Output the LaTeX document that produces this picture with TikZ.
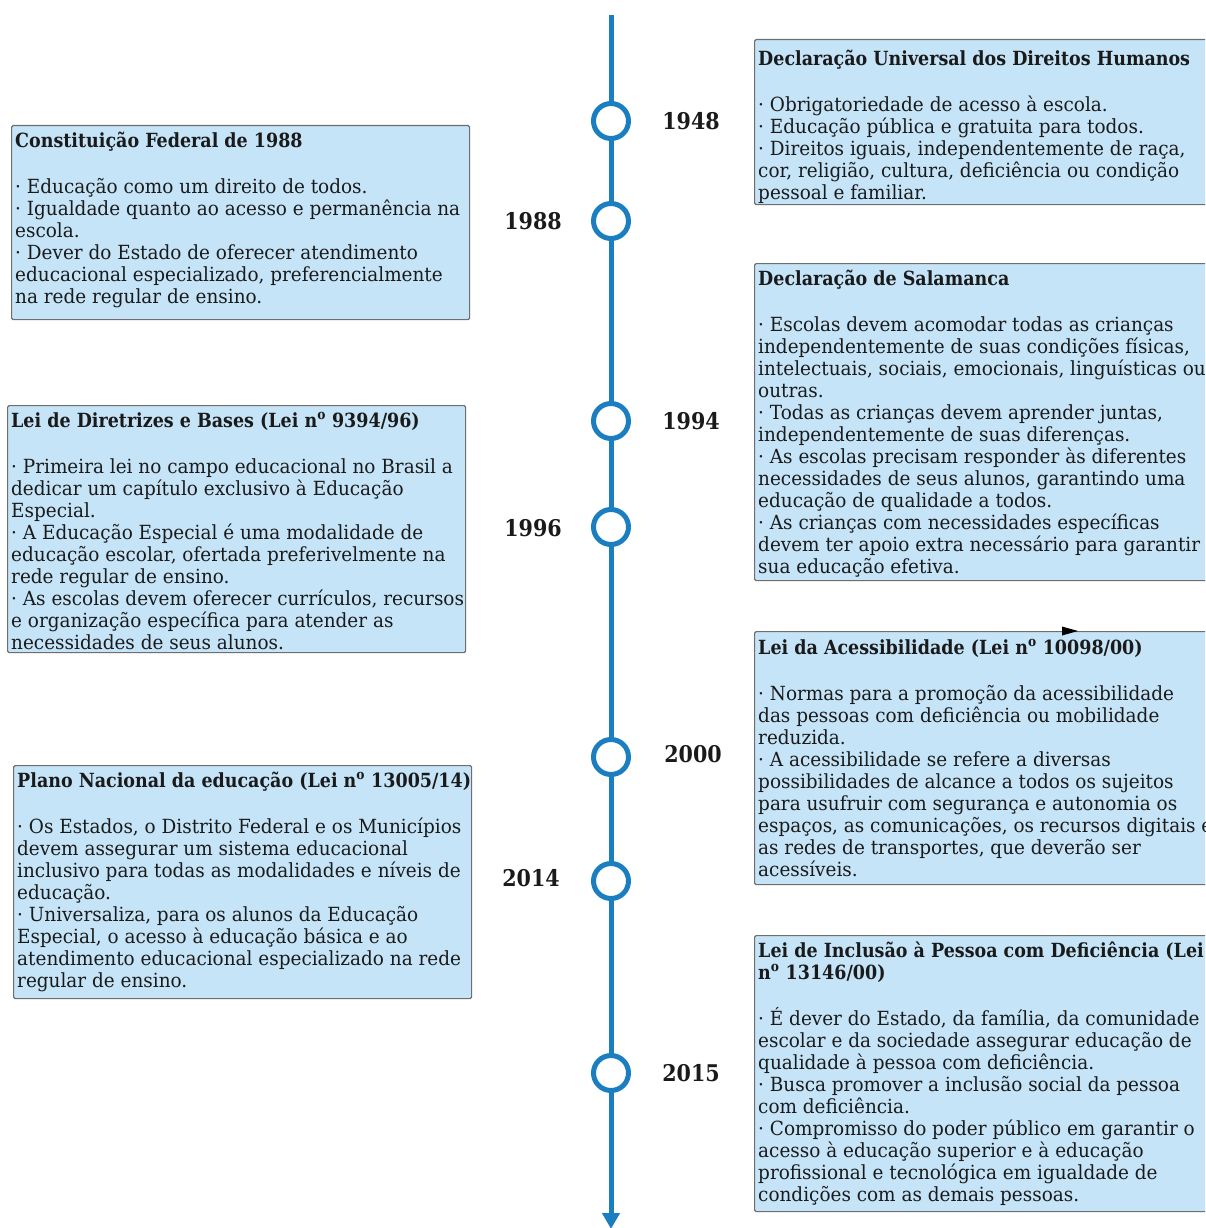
\documentclass[tikz,border=0pt]{standalone}
\usepackage{fontspec}
\setmainfont{DejaVu Serif}[FakeStretch=0.945, BoldFeatures={FakeStretch=0.897}]
\usetikzlibrary{arrows.meta}
\definecolor{tl}{HTML}{1B7EC1}
\definecolor{boxfill}{HTML}{C5E4F7}
\definecolor{boxline}{HTML}{6E6E6E}
\definecolor{ink}{HTML}{1A1A1A}
\newcommand{\numo}{n\textsuperscript{o}}
\begin{document}
\begin{tikzpicture}[x=1pt,y=-1pt,
  box/.style={draw=boxline, line width=1.2pt, fill=boxfill, rounded corners=1.5pt, anchor=north west, inner sep=0pt},
  txt/.style={anchor=north west, inner sep=0pt, align=left, font=\fontsize{19.5}{22}\selectfont, text=ink},
  year/.style={font=\fontsize{23}{24}\selectfont\bfseries, text=ink},
  dot/.style={circle, draw=tl, line width=5pt, fill=white, minimum size=35pt, inner sep=0pt}]
\useasboundingbox (0,0) rectangle (1205,1228);
\clip (0,0) rectangle (1205,1228);
\fill[white] (0,0) rectangle (1205,1228);

% timeline
\coordinate (top) at (611,15);
\coordinate (bot) at (611,1229);
\draw[tl, line width=5pt, -{Triangle[length=16pt,width=17pt]}] (top) -- (bot);

\node[dot] (c1948) at (611,121) {};
\node[dot] (c1988) at (611,221) {};
\node[dot] (c1994) at (611,421) {};
\node[dot] (c1996) at (611,527) {};
\node[dot] (c2000) at (611,757) {};
\node[dot] (c2014) at (611,881) {};
\node[dot] (c2015) at (611,1073) {};

\node[year] (y1948) at (691,121) {1948};
\node[year] (y1988) at (533,221) {1988};
\node[year] (y1994) at (691,421) {1994};
\node[year] (y1996) at (533,528) {1996};
\node[year] (y2000) at (693,754) {2000};
\node[year] (y2014) at (531,878) {2014};
\node[year] (y2015) at (691,1073) {2015};

% boxes
\node[box, minimum width=470pt, minimum height=165pt] (b1948) at (754,39) {};
\node[box, minimum width=458pt, minimum height=194pt] (b1988) at (11,125) {};
\node[box, minimum width=470pt, minimum height=317pt] (b1994) at (754,263) {};
\node[box, minimum width=458pt, minimum height=247pt] (b1996) at (7,405) {};
\node[box, minimum width=470pt, minimum height=253pt] (b2000) at (754,631) {};
\node[box, minimum width=458pt, minimum height=233pt] (b2014) at (13,765) {};
\node[box, minimum width=470pt, minimum height=276pt] (b2015) at (754,935) {};

\fill[black] (1062,626.5) -- (1078,631) -- (1062,635.5) -- cycle;

% texts
\node[txt] (t1948) at (758,45) {\rule{0pt}{20pt}\textbf{Declaração Universal dos Direitos Humanos}\\[24pt]
· Obrigatoriedade de acesso à escola.\\
· Educação pública e gratuita para todos.\\
· Direitos iguais, independentemente de raça,\\
cor, religião, cultura, deficiência ou condição\\
pessoal e familiar.};

\node[txt] (t1988) at (15,127) {\rule{0pt}{20pt}\textbf{Constituição Federal de 1988}\\[24pt]
· Educação como um direito de todos.\\
· Igualdade quanto ao acesso e permanência na\\
escola.\\
· Dever do Estado de oferecer atendimento\\
educacional especializado, preferencialmente\\
na rede regular de ensino.};

\node[txt] (t1994) at (758,265) {\rule{0pt}{20pt}\textbf{Declaração de Salamanca}\\[24pt]
· Escolas devem acomodar todas as crianças\\
independentemente de suas condições físicas,\\
intelectuais, sociais, emocionais, linguísticas ou\\
outras.\\
· Todas as crianças devem aprender juntas,\\
independentemente de suas diferenças.\\
· As escolas precisam responder às diferentes\\
necessidades de seus alunos, garantindo uma\\
educação de qualidade a todos.\\
· As crianças com necessidades específicas\\
devem ter apoio extra necessário para garantir\\
sua educação efetiva.};

\node[txt] (t1996) at (11,407) {\rule{0pt}{20pt}\textbf{Lei de Diretrizes e Bases (Lei \numo{} 9394/96)}\\[24pt]
· Primeira lei no campo educacional no Brasil a\\
dedicar um capítulo exclusivo à Educação\\
Especial.\\
· A Educação Especial é uma modalidade de\\
educação escolar, ofertada preferivelmente na\\
rede regular de ensino.\\
· As escolas devem oferecer currículos, recursos\\
e organização específica para atender as\\
necessidades de seus alunos.};

\node[txt] (t2000) at (758,634) {\rule{0pt}{20pt}\textbf{Lei da Acessibilidade (Lei \numo{} 10098/00)}\\[24pt]
· Normas para a promoção da acessibilidade\\
das pessoas com deficiência ou mobilidade\\
reduzida.\\
· A acessibilidade se refere a diversas\\
possibilidades de alcance a todos os sujeitos\\
para usufruir com segurança e autonomia os\\
espaços, as comunicações, os recursos digitais e\\
as redes de transportes, que deverão ser\\
acessíveis.};

\node[txt] (t2014) at (17,767) {\rule{0pt}{20pt}\textbf{Plano Nacional da educação (Lei \numo{} 13005/14)}\\[24pt]
· Os Estados, o Distrito Federal e os Municípios\\
devem assegurar um sistema educacional\\
inclusivo para todas as modalidades e níveis de\\
educação.\\
· Universaliza, para os alunos da Educação\\
Especial, o acesso à educação básica e ao\\
atendimento educacional especializado na rede\\
regular de ensino.};

\node[txt] (t2015) at (758,937) {\rule{0pt}{20pt}\textbf{Lei de Inclusão à Pessoa com Deficiência (Lei}\\
\textbf{\numo{} 13146/00)}\\[24pt]
· É dever do Estado, da família, da comunidade\\
escolar e da sociedade assegurar educação de\\
qualidade à pessoa com deficiência.\\
· Busca promover a inclusão social da pessoa\\
com deficiência.\\
· Compromisso do poder público em garantir o\\
acesso à educação superior e à educação\\
profissional e tecnológica em igualdade de\\
condições com as demais pessoas.};
\end{tikzpicture}
\end{document}
